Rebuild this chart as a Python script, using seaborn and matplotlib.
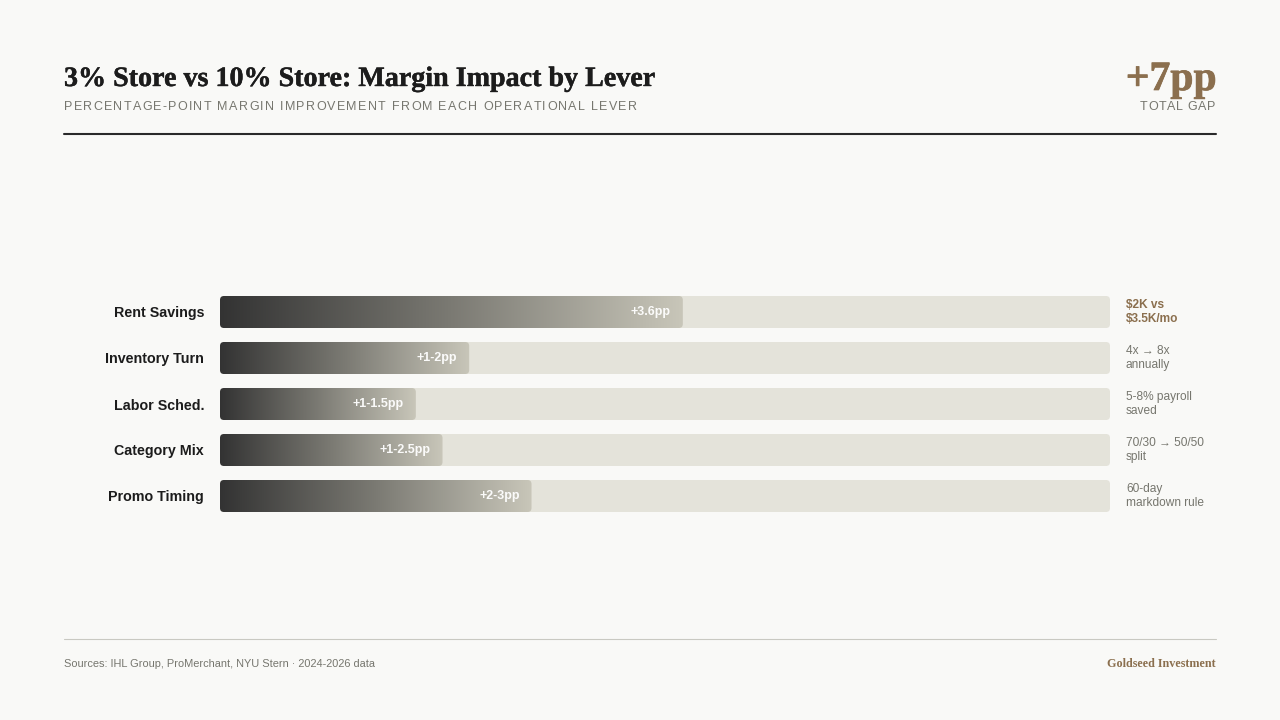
import numpy as np
import pandas as pd
import seaborn as sns
import matplotlib
matplotlib.use('Agg')
import matplotlib.pyplot as plt
import matplotlib.patheffects as pe
from matplotlib.patches import FancyBboxPatch
from matplotlib.colors import LinearSegmentedColormap


# data
levers = ['Rent Savings', 'Inventory Turn', 'Labor Sched.', 'Category Mix', 'Promo Timing']
fill_pct = [52, 28, 22, 25, 35]
value_labels = ['+3.6pp', '+1-2pp', '+1-1.5pp', '+1-2.5pp', '+2-3pp']
notes = ['$2K vs\n$3.5K/mo', '4x \u2192 8x\nannually', '5-8% payroll\nsaved',
         '70/30 \u2192 50/50\nsplit', '60-day\nmarkdown rule']
track_max = 100

BG = '#f9f9f7'
INK = '#1c1c1c'
GREY = '#76766e'
BROWN = '#8b6f4e'
TRACK = '#e4e3da'

W, H = 1280, 720
SERIF = ['Liberation Serif', 'DejaVu Serif']


def px(x, y):
    # pixel coords from top-left -> figure fraction
    return x / W, 1 - y / H


def heavy(color, width):
    # thicken the serif headline a bit, the reference face is heavier
    return [pe.withStroke(linewidth=width, foreground=color)]


def spaced_text(fig, x, y, s, spacing, ha='left', **kw):
    """draw text letter by letter with extra tracking (in pixels)"""
    r = fig.canvas.get_renderer()

    def width(txt):
        t = fig.text(0, 0, txt, **kw)
        w = t.get_window_extent(r).width
        t.remove()
        return w

    base = width('HH')
    widths = [width('H' + ch + 'H') - base for ch in s]
    total = sum(widths) + spacing * (len(s) - 1)
    cur = x if ha == 'left' else x - total
    for ch, w in zip(s, widths):
        if ch != ' ':
            fig.text(*px(cur, y), ch, ha='left', va='baseline', **kw)
        cur += w + spacing


sns.set_theme(style='white')
plt.rcParams['font.family'] = ['Liberation Sans', 'DejaVu Sans']

fig = plt.figure(figsize=(12.8, 7.2), dpi=100, facecolor=BG)

# bar area: track from x=220 to 1110, rows centred 312..496, pitch 46
ax_left, ax_right = 220, 1110
ax_top, ax_bot = 289, 519
ax = fig.add_axes([ax_left / W, 1 - ax_bot / H, (ax_right - ax_left) / W, (ax_bot - ax_top) / H])
ax.set_facecolor('none')

df = pd.DataFrame({'lever': levers, 'pct': fill_pct, 'track': [track_max] * len(levers)})
bar_w = 32 / 46

sns.barplot(data=df, y='lever', x='track', color=TRACK, width=bar_w, ax=ax, orient='h')
sns.barplot(data=df, y='lever', x='pct', color='#333333', width=bar_w, ax=ax, orient='h')

# rounded corners: fix aspect between x and y data units
x_per_px = track_max / (ax_right - ax_left)
y_per_px = len(levers) / (ax_bot - ax_top)
radius_px = 4
aspect = y_per_px / x_per_px

cmap = LinearSegmentedColormap.from_list('lever', ['#333333', '#7b7a73', '#c8c6b9'])
grad = np.linspace(0, 1, 256).reshape(1, -1)

patches = list(ax.patches)
n = len(levers)
for i, p in enumerate(patches):
    x0, y0 = p.get_x(), p.get_y()
    w, h = p.get_width(), p.get_height()
    p.set_visible(False)
    box = FancyBboxPatch((x0, y0), w, h,
                         boxstyle='round,pad=0,rounding_size=%f' % (radius_px * x_per_px),
                         mutation_aspect=aspect, linewidth=0,
                         facecolor=TRACK if i < n else 'none', zorder=2)
    ax.add_patch(box)
    if i >= n:
        im = ax.imshow(grad, cmap=cmap, aspect='auto', extent=(x0, x0 + w, y0 + h, y0),
                       zorder=3, interpolation='bicubic')
        im.set_clip_path(box)

ax.set_xlim(0, track_max)
ax.set_ylim(len(levers) - 0.5, -0.5)

for i, (v, lab, note) in enumerate(zip(fill_pct, value_labels, notes)):
    ax.annotate(lab, xy=(v, i), xytext=(-12 * 0.72, 0), textcoords='offset points',
                ha='right', va='center', color='white', fontsize=9, fontweight='bold',
                alpha=0.95, zorder=5)
    first = i == 0
    ax.annotate(note, xy=(1, i), xycoords=('axes fraction', 'data'),
                xytext=(16 * 0.72, 0), textcoords='offset points',
                ha='left', va='center', fontsize=8.6, linespacing=1.25,
                color=BROWN if first else GREY, fontweight='bold' if first else 'normal')

ax.set_xlabel('')
ax.set_ylabel('')
ax.set_xticks([])
ax.tick_params(axis='y', length=0, pad=16 * 0.72)
for t in ax.get_yticklabels():
    t.set_fontweight('bold')
    t.set_fontsize(10.3)
    t.set_color(INK)
sns.despine(ax=ax, left=True, bottom=True)

# header
fig.text(*px(64, 86), '3% Store vs 10% Store: Margin Impact by Lever',
         family=SERIF, fontweight='bold', fontsize=20.2, color=INK, va='baseline',
         path_effects=heavy(INK, 0.3))
spaced_text(fig, 64, 110, 'PERCENTAGE-POINT MARGIN IMPROVEMENT FROM EACH OPERATIONAL LEVER',
            1.3, fontsize=9, color=GREY)
fig.text(*px(1216.5, 90), '+7pp', family=SERIF, fontweight='bold', fontsize=30,
         color=BROWN, ha='right', va='baseline', path_effects=heavy(BROWN, 0.5))
spaced_text(fig, 1215.5, 110, 'TOTAL GAP', 0.7, ha='right', fontsize=9, color=GREY)

fig.add_artist(plt.Line2D([64 / W, 1216 / W], [1 - 134 / H] * 2, color='#2a2a2a', linewidth=1.5))

# footer
fig.add_artist(plt.Line2D([64 / W, 1216 / W], [1 - 639 / H] * 2, color='#c9c9c2', linewidth=0.8))
fig.text(*px(64, 667), 'Sources: IHL Group, ProMerchant, NYU Stern \u00b7 2024-2026 data',
         fontsize=7.9, color=GREY, va='baseline')
fig.text(*px(1216, 667), 'Goldseed Investment', family=SERIF, fontweight='bold',
         fontsize=8.7, color=BROWN, ha='right', va='baseline')

fig.savefig('out.png', dpi=100, facecolor=BG)
